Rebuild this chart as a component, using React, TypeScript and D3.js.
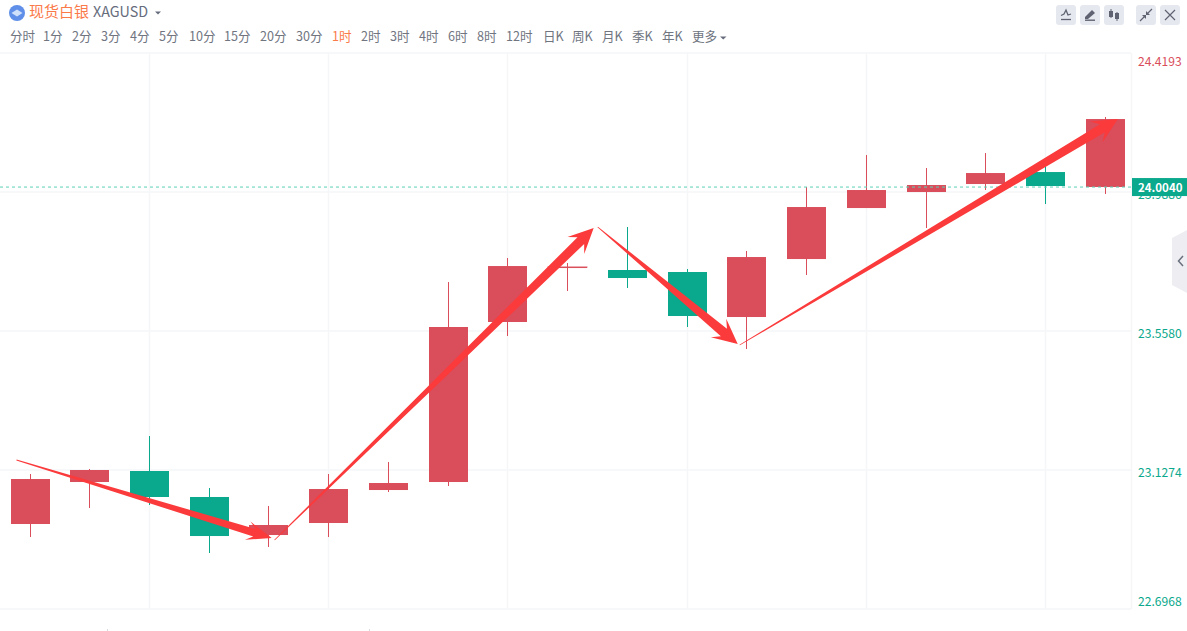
import React from "react";
import * as d3 from "d3";

const W = 1187, H = 631;
const FONT = '"Noto Sans CJK SC", "Open Sans", sans-serif';
const RED = "#da4d5a", GREEN = "#0aa88c", ARROW = "#fb3a3b", GRID = "#f5f6f8";

const opens = [23.0995, 23.1274, 23.0438, 22.9229, 22.957, 23.0685, 23.0871, 23.5704, 23.7593, 23.7562, 23.7222, 23.6045, 23.7872, 23.9421, 23.9948, 24.0103, 24.0474, 24.0072, 24.2147];
const closes = [22.9601, 23.0902, 23.1243, 23.0438, 22.926, 22.9632, 23.0654, 23.0902, 23.5859, 23.7531, 23.747, 23.7408, 23.6014, 23.781, 23.939, 23.9886, 24.0134, 24.0505, 24.0041];
const highs = [23.115, 23.1305, 23.2327, 23.0716, 23.0159, 23.115, 23.1522, 23.7098, 23.7841, 23.7686, 23.8802, 23.7501, 23.8058, 24.0041, 24.1032, 24.0629, 24.1094, 24.0939, 24.2209];
const lows = [22.9198, 23.0097, 23.019, 22.8703, 22.8889, 22.9198, 23.0592, 23.0778, 23.5425, 23.6819, 23.6912, 23.5704, 23.5022, 23.7315, 23.939, 23.8771, 23.9948, 23.9514, 23.9824];
const rising = [1, 1, 0, 0, 1, 1, 1, 1, 1, 1, 0, 0, 1, 1, 1, 1, 1, 0, 1];

const yTicks = [24.4193, 23.9886, 23.558, 23.1274, 22.6968];
const gridIndexes = [2, 5, 8, 11, 14, 17];
const lastPrice = 24.004;

// Hand-drawn arrows: from / to as [candle index, price]
const arrowFrom = [[-0.226, 23.1584], [4.094, 22.9106], [9.503, 23.8802], [11.88, 23.5146]];
const arrowTo = [[4.045, 22.9167], [9.436, 23.8771], [11.847, 23.5177], [18.21, 24.2147]];

const title = "现货白银";
const symbol = "XAGUSD";
const tabs = ["分时", "1分", "2分", "3分", "4分", "5分", "10分", "15分", "20分", "30分", "1时", "2时", "3时", "4时", "6时", "8时", "12时", "日K", "周K", "月K", "季K", "年K", "更多"];
const tabStarts = [10, 43, 72, 101, 130, 159, 189, 224, 260, 296, 332, 361, 390, 419, 448, 477, 506, 543, 572, 602, 632, 662, 692];
const activeTab = "1时";
const buttonStarts = [1056, 1080, 1104, 1136, 1160];

const x = d3.scaleLinear().domain([0, 18]).range([30, 1105.3]);
const y = d3.scaleLinear().domain([22.6968, 24.4193]).range([609, 53]);
const snapX = (i: number) => Math.floor(x(i)) + 0.5;

function arrowPath(x0: number, y0: number, x1: number, y1: number, shaft: number, headW: number, headL: number) {
  const len = Math.hypot(x1 - x0, y1 - y0);
  const ux = (x1 - x0) / len, uy = (y1 - y0) / len;
  const nx = -uy, ny = ux;
  const p = (along: number, off: number): [number, number] => [x0 + ux * along + nx * off, y0 + uy * along + ny * off];
  const pts = [
    p(0, 0.4),
    p(len - headL * 0.72, shaft / 2),
    p(len - headL, headW / 2),
    p(len, 0),
    p(len - headL, -headW / 2),
    p(len - headL * 0.72, -shaft / 2),
    p(0, -0.4),
  ];
  return d3.line()(pts) + "Z";
}

function Button({ x0, i }: { x0: number; i: number }) {
  const c = "#5f6371";
  const cx = x0 + 10, cy = 15;
  let icon: React.ReactNode = null;
  if (i === 0) {
    icon = (
      <g fill="none" stroke={c} strokeWidth={1.3}>
        <path d={`M${cx - 5} ${cy + 4.5}H${cx + 5}`} />
        <path d={`M${cx - 5} ${cy + 0.5}L${cx - 2} ${cy - 1}L${cx} ${cy - 5}L${cx + 2} ${cy}L${cx + 5} ${cy - 1}`} />
      </g>
    );
  } else if (i === 1) {
    icon = (
      <g fill={c}>
        <path d={`M${cx - 5} ${cy + 2}L${cx + 2} ${cy - 5}L${cx + 5} ${cy - 2}L${cx - 2} ${cy + 4}H${cx - 5}Z`} />
        <rect x={cx - 5} y={cy + 4.5} width={10} height={1.4} />
      </g>
    );
  } else if (i === 2) {
    icon = (
      <g fill={c} stroke={c}>
        <path d={`M${cx - 3} ${cy - 6}V${cy + 3}M${cx + 3} ${cy - 3}V${cy + 6}`} strokeWidth={1} />
        <rect x={cx - 5} y={cy - 4} width={4} height={6} strokeWidth={0} />
        <rect x={cx + 1} y={cy - 2} width={4} height={6} strokeWidth={0} />
      </g>
    );
  } else if (i === 3) {
    icon = (
      <g fill={c} stroke={c} strokeWidth={1.2}>
        <path d={`M${cx - 6} ${cy + 6}L${cx - 1} ${cy + 1}M${cx + 6} ${cy - 6}L${cx + 1} ${cy - 1}`} />
        <path d={`M${cx - 4} ${cy}H${cx}V${cy + 4}ZM${cx + 4} ${cy}H${cx}V${cy - 4}Z`} strokeWidth={0} />
      </g>
    );
  } else {
    icon = <path d={`M${cx - 5} ${cy - 5}L${cx + 5} ${cy + 5}M${cx + 5} ${cy - 5}L${cx - 5} ${cy + 5}`} stroke={c} strokeWidth={1.2} fill="none" />;
  }
  return (
    <g>
      <rect x={x0} y={5} width={20} height={20} rx={3} fill="#e6e8ef" />
      {icon}
    </g>
  );
}

export default function App() {
  const bodyW = 39;
  const tickY = (v: number, i: number) => {
    if (i === 0) return y(v) + 8.5;
    if (i === yTicks.length - 1) return y(v) - 7;
    return y(v) + 3;
  };
  return (
    <svg width={W} height={H} viewBox={`0 0 ${W} ${H}`} style={{ position: "fixed", left: 0, top: 0, background: "#fff", fontFamily: FONT }}>
      {/* header */}
      <circle cx={17} cy={13} r={8} fill="#5f8fe8" />
      <path d="M11.5 13 L17 9.5 L22.5 13 L17 16.5Z" fill="#cfe0fb" />
      <text x={29} y={17} fontSize={15} fill="#fb7a4a">{title}</text>
      <text x={93} y={17} fontSize={14.3} fill="#666c7c">{symbol}</text>
      <path d="M155 11.5h6l-3 3z" fill="#666c7c" />
      {tabs.map((t, i) => (
        <text key={t} x={tabStarts[i]} y={41} fontSize={12.6} fill={t === activeTab ? "#fb7a4a" : "#70757f"}>{t}</text>
      ))}
      <path d="M720 36.5h6.5l-3.25 3z" fill="#666c7c" />
      {buttonStarts.map((b, i) => <Button key={b} x0={b} i={i} />)}

      {/* grid */}
      <g stroke={GRID} strokeWidth={1.5} fill="none">
        {yTicks.map((v) => <line key={v} x1={0} x2={1131} y1={y(v)} y2={y(v)} />)}
        {gridIndexes.map((i) => <line key={i} x1={snapX(i)} x2={snapX(i)} y1={53} y2={609} />)}
        <line x1={1131.5} x2={1131.5} y1={53} y2={609} />
      </g>
      <path d="M107.5 629V631M369.5 629V631" stroke="#d8dbe0" />

      {/* candles */}
      {opens.map((o, i) => {
        const c = closes[i];
        const col = rising[i] ? RED : GREEN;
        const top = y(Math.max(o, c));
        const bottom = y(Math.min(o, c));
        const cx = snapX(i);
        return (
          <g key={i}>
            <line x1={cx} x2={cx} y1={y(highs[i])} y2={y(lows[i])} stroke={col} strokeWidth={1} />
            <rect x={cx - bodyW / 2} y={top} width={bodyW} height={Math.max(1, bottom - top)} fill={col} />
          </g>
        );
      })}
      {/* doji cap is wider than a normal wick */}
      <line x1={snapX(9) - 20} x2={snapX(9) + 20} y1={y(opens[9])} y2={y(opens[9])} stroke={RED} strokeWidth={1} />

      {/* last price line */}
      <line x1={0} x2={1131} y1={y(lastPrice)} y2={y(lastPrice)} stroke="#5cd0b8" strokeWidth={1} strokeDasharray="3 3" />

      {/* arrows */}
      {arrowFrom.map((f, i) => {
        const t = arrowTo[i];
        const shaft = i === 0 ? 8 : 9.5;
        const headW = i === 0 ? 19 : 24;
        return <path key={i} d={arrowPath(x(f[0]), y(f[1]), x(t[0]), y(t[1]), shaft, headW, 25)} fill={ARROW} />;
      })}

      {/* axis labels */}
      {yTicks.map((v, i) => (
        <text key={v} x={1138} y={tickY(v, i)} dy="0.36em" fontSize={12.1} fill={i === 0 ? RED : GREEN}>{v.toFixed(4)}</text>
      ))}
      <rect x={1132} y={y(lastPrice) - 9} width={55} height={18} fill={GREEN} />
      <text x={1138} y={y(lastPrice) + 0.5} dy="0.36em" fontSize={11.5} fontWeight={700} fill="#fff">{lastPrice.toFixed(4)}</text>

      {/* side panel handle */}
      <path d="M1187 230L1172 238V285L1187 293Z" fill="#eeeef2" />
      <path d="M1183 256L1178.5 261L1183 266" fill="none" stroke="#6a6f7d" strokeWidth={1.5} />
    </svg>
  );
}
